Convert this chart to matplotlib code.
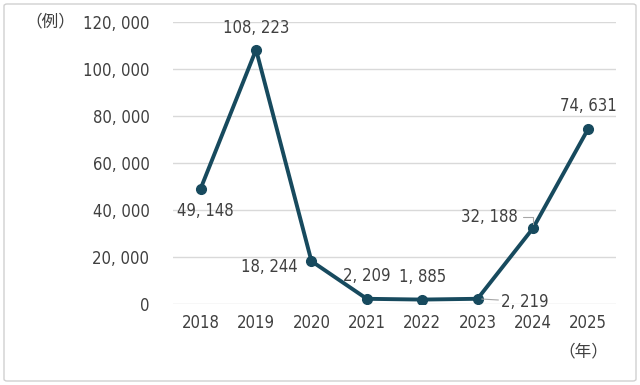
import matplotlib
matplotlib.use("Agg")
import matplotlib.pyplot as plt
from matplotlib.patches import FancyBboxPatch

years = ["2018", "2019", "2020", "2021", "2022", "2023", "2024", "2025"]
cases = [49148, 108223, 18244, 2209, 1885, 2219, 32188, 74631]
yticks = [0, 20000, 40000, 60000, 80000, 100000, 120000]

plt.rcParams['font.family'] = ['DejaVu Sans', 'Noto Sans CJK JP']
plt.rcParams['font.stretch'] = 'condensed'
txt = '#404040'
line_c = '#174a5e'
fs = 12

fig = plt.figure(figsize=(6.4, 3.85), dpi=100)
ax = fig.add_axes([173/640, 1-304/385, (616-173)/640, (304-22)/385])

x = list(range(len(years)))
ax.plot(x, cases, color=line_c, lw=2.8, marker='o', ms=7, zorder=3)

def fmt(v):
    return f"{v:,}".replace(",", ", ")

ax.set_xlim(-0.5, 7.5)
ax.set_ylim(0, 120000)
ax.set_yticks(yticks)
ax.set_yticklabels([fmt(v) for v in yticks], fontsize=fs, color=txt)
ax.set_xticks(x)
ax.set_xticklabels(years, fontsize=fs, color=txt)
ax.grid(axis='y', color='#d9d9d9', lw=1)
ax.set_axisbelow(True)
for s in ax.spines.values():
    s.set_visible(False)
ax.tick_params(axis='x', length=0, pad=7)
ax.tick_params(axis='y', length=0, pad=17)

offsets = [
    (3, -16, 'center', 'center'),
    (0, 9, 'center', 'bottom'),
    (-10, -4, 'right', 'center'),
    (0, 10, 'center', 'bottom'),
    (0, 10, 'center', 'bottom'),
    None,
    None,
    (0, 10, 'center', 'bottom'),
]
for i, (v, o) in enumerate(zip(cases, offsets)):
    if o is None:
        continue
    dx, dy, ha, va = o
    ax.annotate(fmt(v), (i, v), xytext=(dx, dy), textcoords='offset points',
                ha=ha, va=va, fontsize=fs, color=txt)

ax.annotate(fmt(cases[5]), (5, cases[5]), xytext=(17, -2), textcoords='offset points',
            ha='left', va='center', fontsize=fs, color=txt,
            arrowprops=dict(arrowstyle='-', color='#a6a6a6', lw=0.8, shrinkA=0, shrinkB=3))
ax.annotate(fmt(cases[6]), (6, cases[6]), xytext=(-11, 8), textcoords='offset points',
            ha='right', va='center', fontsize=fs, color=txt,
            arrowprops=dict(arrowstyle='-', color='#a6a6a6', lw=0.8, shrinkA=2, shrinkB=3,
                            connectionstyle='angle,angleA=0,angleB=90,rad=0'))

fig.text(50/640, 1-22/385, "（例）", fontsize=12, color=txt, ha='center', va='center',
         family=['Noto Sans CJK JP', 'DejaVu Sans'])
fig.text(583/640, 1-352/385, "（年）", fontsize=12, color=txt, ha='center', va='center',
         family=['Noto Sans CJK JP', 'DejaVu Sans'])

border = FancyBboxPatch((4/640, 4/385), 632/640, 377/385, boxstyle='round,pad=0,rounding_size=0.005',
                        transform=fig.transFigure, fill=False, ec='#d0d0d0', lw=1)
fig.patches.append(border)

fig.savefig("out.png", dpi=100)
